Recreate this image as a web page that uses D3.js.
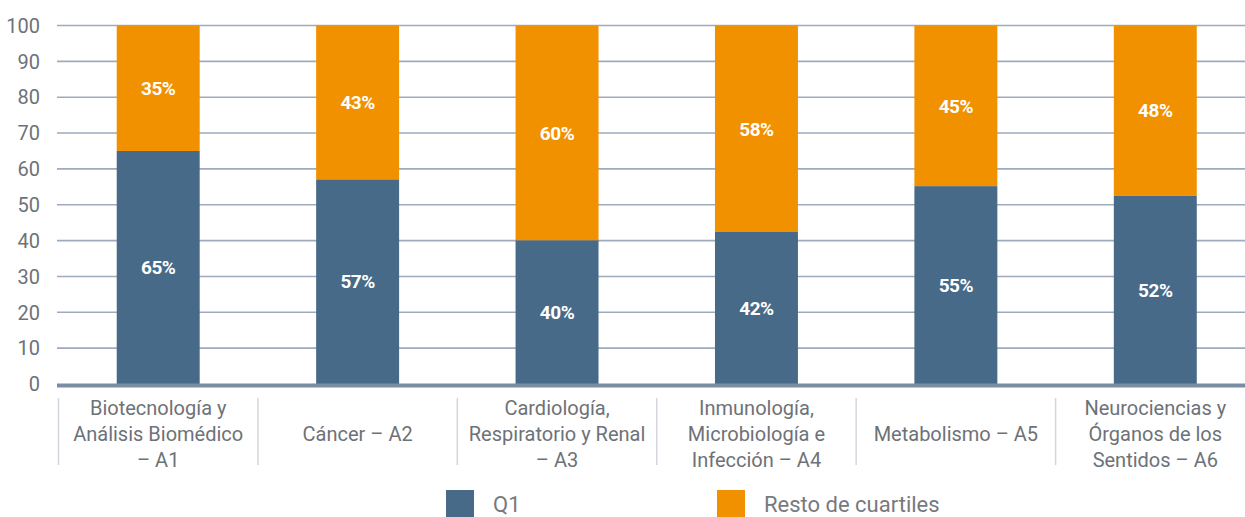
<!DOCTYPE html>
<html><head><meta charset="utf-8">
<script src="https://cdn.jsdelivr.net/npm/d3@7/dist/d3.min.js"></script>
<style>
body{margin:0;background:#fff;}
svg{display:block;}
.cond{font-family:Roboto,"Liberation Sans",sans-serif;}
</style></head>
<body><svg id="c" width="1245" height="517"></svg>
<script>
const categories = [
  ["Biotecnología y","Análisis Biomédico","– A1"],
  ["Cáncer – A2"],
  ["Cardiología,","Respiratorio y Renal","– A3"],
  ["Inmunología,","Microbiología e","Infección – A4"],
  ["Metabolismo – A5"],
  ["Neurociencias y","Órganos de los","Sentidos – A6"]
];
const q1 = [65, 57.1, 40.1, 42.4, 55.2, 52.6];
const rest = [35, 42.9, 59.9, 57.6, 44.8, 47.4];
const q1Labels = ["65%","57%","40%","42%","55%","52%"];
const restLabels = ["35%","43%","60%","58%","45%","48%"];
const yTicks = [0,10,20,30,40,50,60,70,80,90,100];
const seriesNames = ["Q1","Resto de cuartiles"];
const colors = ["#466a88","#f19100"];

const svg = d3.select("#c");
const x = d3.scaleBand().domain(d3.range(categories.length)).range([58.5,1255]).paddingInner(0.584).paddingOuter(0.292);
const xb = d3.scaleBand().domain(d3.range(categories.length)).range([58.5,1255]).padding(0);
const y = d3.scaleLinear().domain([0,100]).range([384,25.5]);

// gridlines
svg.append("g").selectAll("line").data(yTicks.filter(d=>d>0)).join("line")
  .attr("x1",57).attr("x2",1245).attr("y1",d=>y(d)).attr("y2",d=>y(d))
  .attr("stroke","#9dabbc").attr("stroke-width",1.6);

// y tick labels
svg.append("g").selectAll("text").data(yTicks).join("text")
  .attr("class","cond")
  .attr("x",40).attr("y",d=>y(d)).attr("dy","0.36em")
  .attr("text-anchor","end").attr("font-size",20).attr("fill","#6d7278")
  .text(d=>d);

// bars
const g = svg.append("g");
g.selectAll("rect.q1").data(q1).join("rect").attr("class","q1")
  .attr("x",(d,i)=>x(i)).attr("width",x.bandwidth())
  .attr("y",d=>y(d)).attr("height",d=>y(0)-y(d)).attr("fill",colors[0]);
g.selectAll("rect.rest").data(rest).join("rect").attr("class","rest")
  .attr("x",(d,i)=>x(i)).attr("width",x.bandwidth())
  .attr("y",(d,i)=>y(q1[i]+d)).attr("height",(d,i)=>y(q1[i])-y(q1[i]+d)).attr("fill",colors[1]);

// baseline
svg.append("line").attr("x1",57).attr("x2",1245).attr("y1",y(0)+1.5).attr("y2",y(0)+1.5)
  .attr("stroke","#7a8ea3").attr("stroke-width",4);

// value labels
g.selectAll("text.q1l").data(q1).join("text").attr("class","cond")
  .attr("x",(d,i)=>x(i)+x.bandwidth()/2).attr("y",d=>(y(0)+y(d))/2).attr("dy","0.36em")
  .attr("text-anchor","middle").attr("font-size",19).attr("font-weight","bold").attr("fill","#fff")
  .attr("letter-spacing","-0.5")
  .text((d,i)=>q1Labels[i]);
g.selectAll("text.rl").data(rest).join("text").attr("class","cond")
  .attr("x",(d,i)=>x(i)+x.bandwidth()/2).attr("y",(d,i)=>(y(q1[i])+y(q1[i]+d))/2).attr("dy","0.36em")
  .attr("text-anchor","middle").attr("font-size",19).attr("font-weight","bold").attr("fill","#fff")
  .attr("letter-spacing","-0.5")
  .text((d,i)=>restLabels[i]);

// category separators
svg.append("g").selectAll("line").data(d3.range(categories.length)).join("line")
  .attr("x1",i=>xb(i)).attr("x2",i=>xb(i)).attr("y1",398).attr("y2",465)
  .attr("stroke","#d3d6dc").attr("stroke-width",1.5);

// category labels
const cl = svg.append("g").selectAll("text").data(categories).join("text")
  .attr("class","cond").attr("text-anchor","middle").attr("font-size",20).attr("fill","#6d7278")
  .attr("x",(d,i)=>xb(i)+xb.bandwidth()/2)
  .attr("y",d=>434 - (d.length-1)*26/2);
cl.selectAll("tspan").data(d=>d).join("tspan")
  .attr("x",function(){return this.parentNode.getAttribute("x");})
  .attr("dy",(d,i)=>i===0?"0.36em":"26").text(d=>d);

// legend
const legX = [446, 717];
const leg = svg.append("g").selectAll("g").data(seriesNames).join("g")
  .attr("transform",(d,i)=>`translate(${legX[i]},490)`);
leg.append("rect").attr("width",28).attr("height",27).attr("fill",(d,i)=>colors[i]);
leg.append("text").attr("x",47).attr("y",14).attr("dy","0.36em")
  .attr("font-family","Roboto, sans-serif").attr("font-size",22).attr("fill","#77797c")
  .text(d=>d);
</script></body></html>
